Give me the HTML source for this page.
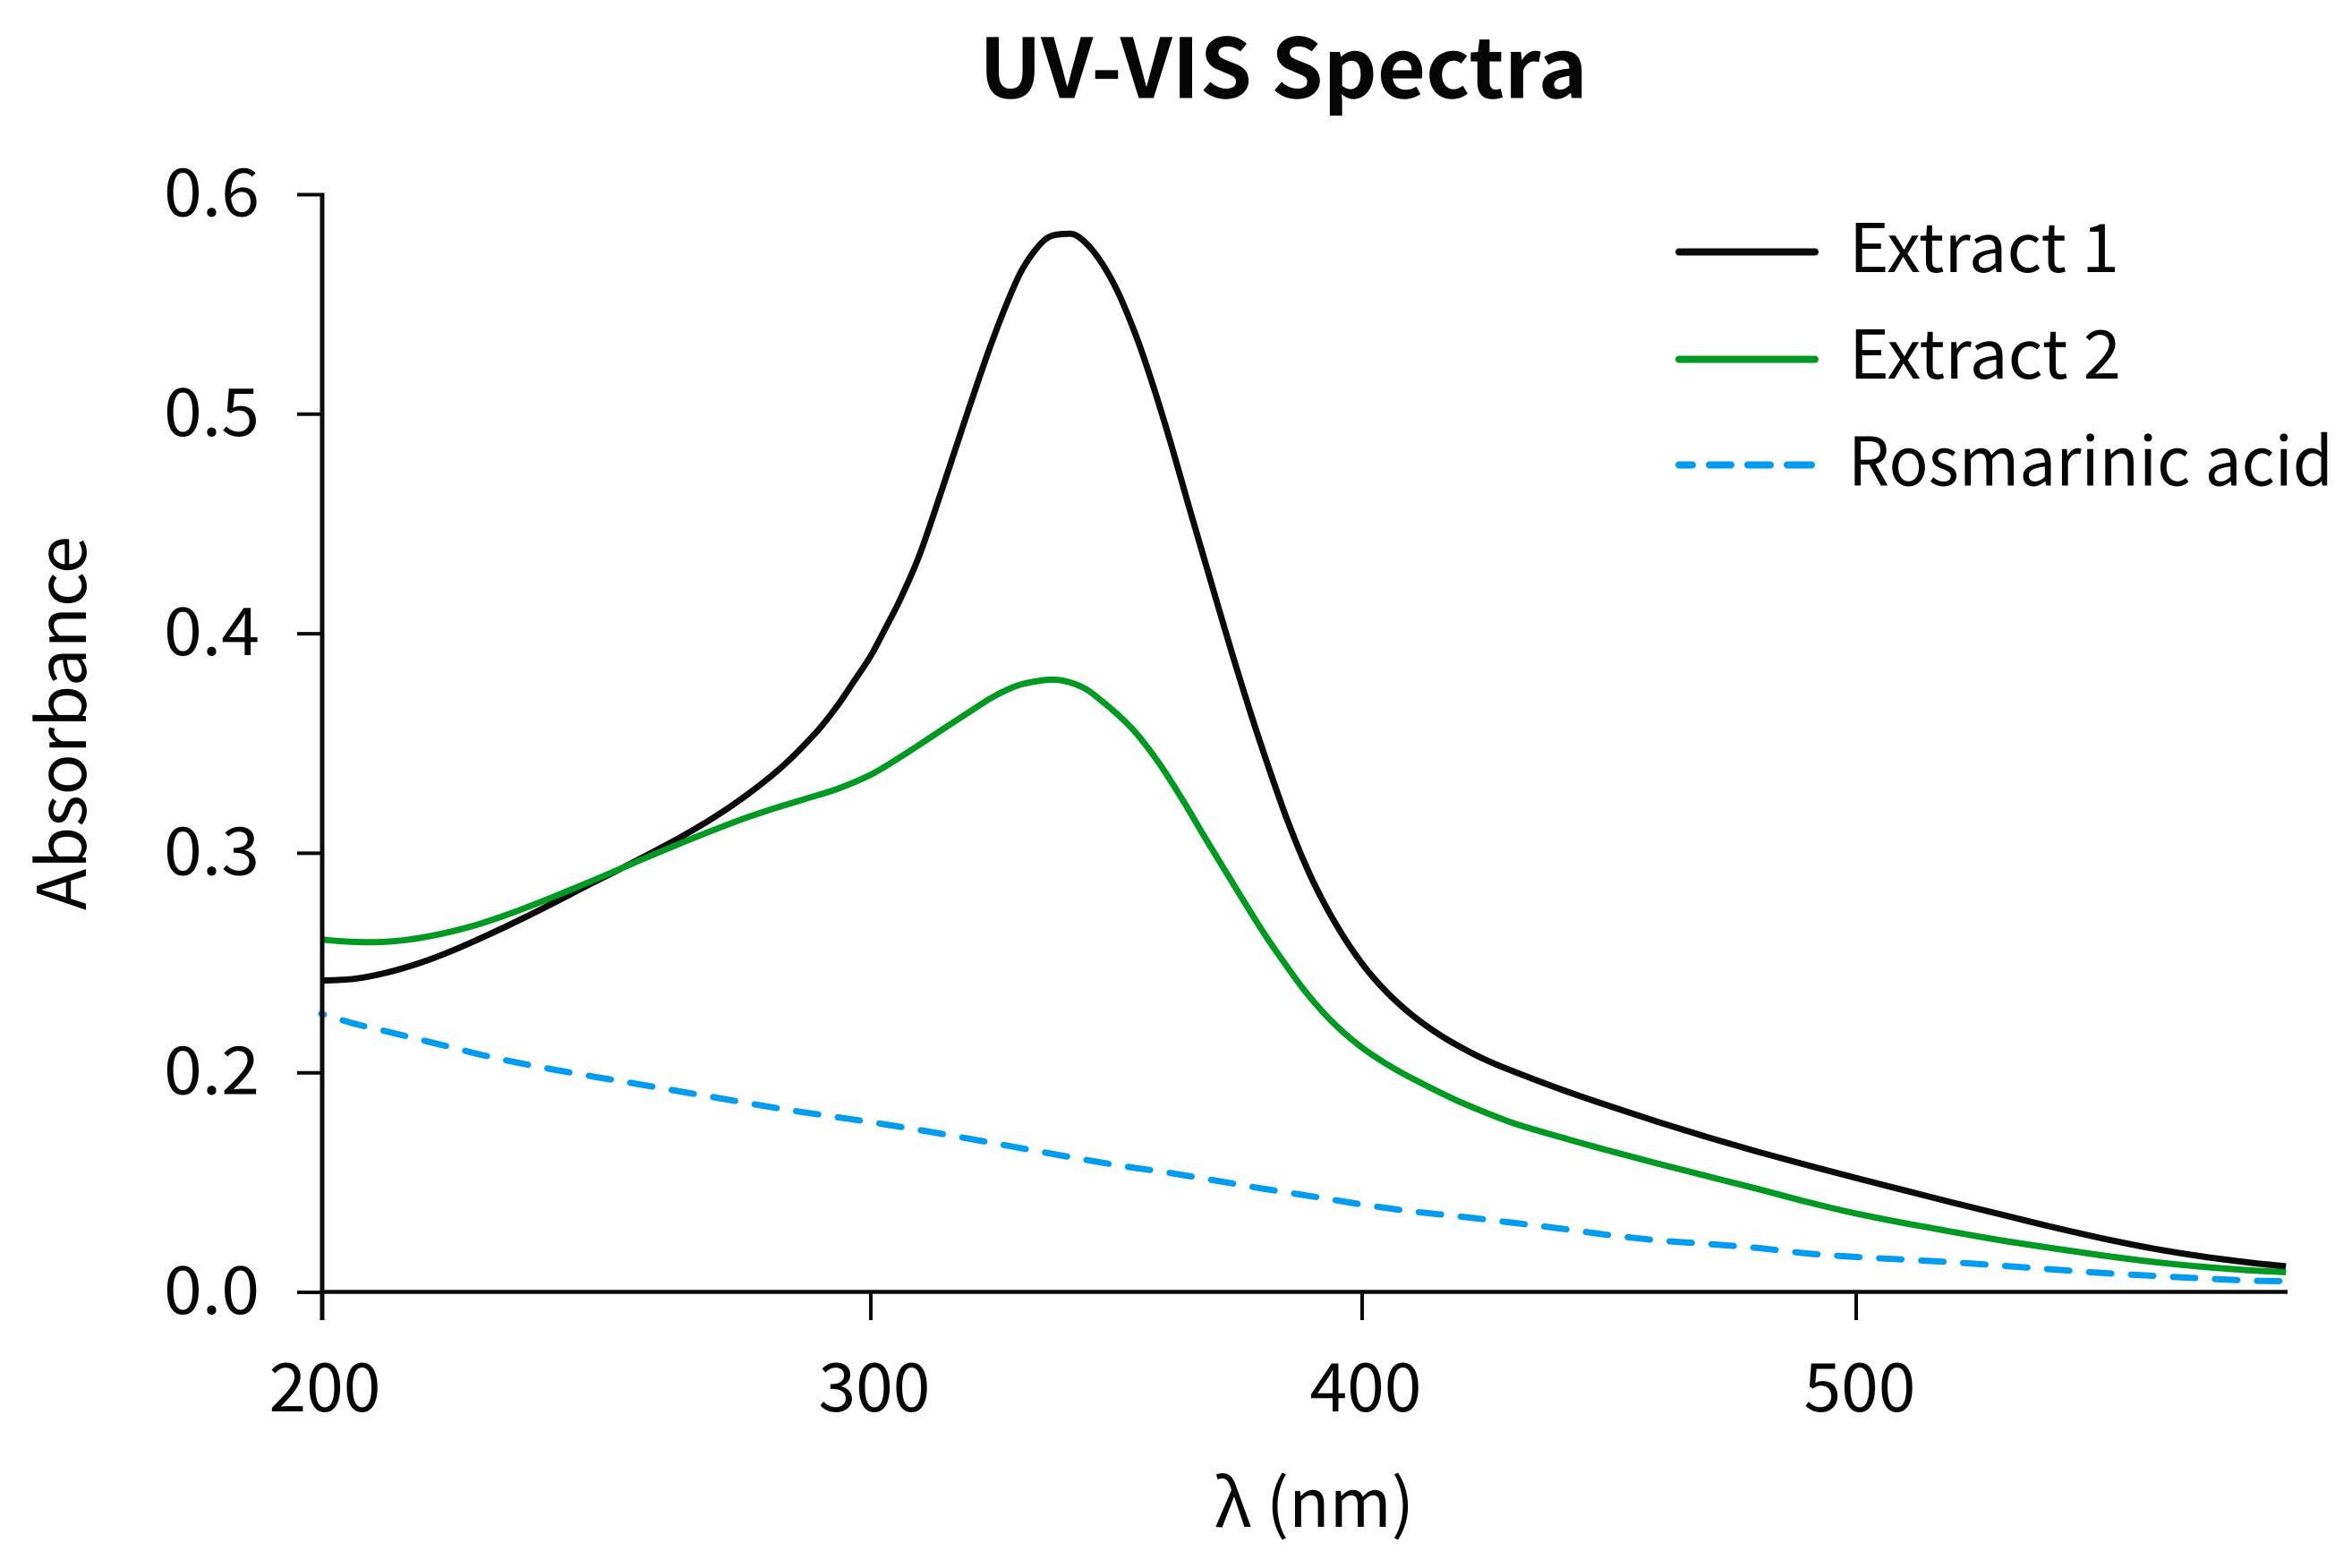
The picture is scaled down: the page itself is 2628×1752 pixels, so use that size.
<!DOCTYPE html>
<html lang="en">
<head>
<meta charset="utf-8">
<title>UV-VIS Spectra</title>
<style>
  html, body { margin: 0; padding: 0; background: #fff; }
  svg { display: block; }
  text { font-family: "Noto Sans CJK JP", "Liberation Sans", sans-serif; fill: #050505; text-rendering: geometricPrecision; }
</style>
</head>
<body>
<svg id="chart" xmlns="http://www.w3.org/2000/svg" width="2628" height="1752" viewBox="0 0 2628 1752">
  <rect width="2628" height="1752" fill="#fff"/>
  <text x="1094" y="109.5" font-size="92" font-weight="700" textLength="680" lengthAdjust="spacingAndGlyphs">UV-VIS Spectra</text>
  <text transform="translate(96 1017) rotate(-90)" font-size="75" textLength="418" lengthAdjust="spacingAndGlyphs">Absorbance</text>
  <text x="1357" y="1706" font-size="74" textLength="223" lengthAdjust="spacingAndGlyphs">λ (nm)</text>
  <g id="series-layer"></g>
  <g id="axis-layer"></g>
  <g>
    <g>
      <line x1="1876" x2="2028" y1="281.5" y2="281.5" stroke="#0a0a0a" stroke-width="8" stroke-linecap="round"/>
      <text x="2066" y="304" font-size="75" textLength="302" lengthAdjust="spacingAndGlyphs">Extract 1</text>
    </g>
    <g>
      <line x1="1876" x2="2028" y1="401.5" y2="401.5" stroke="#009a22" stroke-width="8" stroke-linecap="round"/>
      <text x="2066" y="423" font-size="75" textLength="304" lengthAdjust="spacingAndGlyphs">Extract 2</text>
    </g>
    <g>
      <line x1="1876" x2="2024" y1="519.5" y2="519.5" stroke="#009cf0" stroke-width="8" stroke-linecap="round" stroke-dasharray="15 19 24 19 25 19 27 100"/>
      <text x="2065" y="542.5" font-size="75" textLength="542" lengthAdjust="spacingAndGlyphs">Rosmarinic acid</text>
    </g>
  </g>
</svg>
<script>
const xTickValues = [200, 300, 400, 500];
const xTickLabels = ["200", "300", "400", "500"];
const yTickValues = [0, 0.2, 0.3, 0.4, 0.5, 0.6];
const yTickLabels = ["0.0", "0.2", "0.3", "0.4", "0.5", "0.6"];

const extract1Wavelengths = [200,206,212,218,224,230,236,242,248,254,260,266,272,278,284,290,294,297,300,303,306,310,315,320,325,330,333,336,340,342,345,348,351,355,360,365,370,375,380,385,390,395,400,405,410,415,420,425,430,440,450,460,470,480,490,500,510,520,530,540,550,560,570,580,587];
const extract1Values = [.242,.2428,.2457,.2501,.2558,.2624,.2695,.277,.2848,.2923,.3001,.3082,.3172,.3276,.3398,.3549,.3675,.3786,.39,.4026,.4157,.4364,.4691,.5029,.5351,.5624,.5734,.5804,.5822,.5812,.575,.5653,.5522,.5294,.4947,.456,.4177,.3802,.3455,.3137,.2872,.2664,.2497,.2367,.2265,.2183,.2116,.2059,.2012,.1853,.1698,.1551,.1412,.1282,.1159,.1041,.0927,.0812,.0702,.0592,.049,.04,.0327,.0269,.0237];

const extract2Wavelengths = [200,204,210,216,222,228,234,240,246,252,258,264,270,276,282,288,294,300,305,310,315,320,325,330,335,338,341,344,347,350,353,356,360,364,368,372,376,380,384,388,392,396,400,404,408,412,416,420,430,440,450,460,470,480,490,500,510,520,530,540,550,560,570,580,587];
const extract2Values = [.2607,.2599,.2595,.2607,.2634,.2672,.2722,.2779,.284,.2903,.2968,.3031,.3092,.315,.3201,.3247,.3294,.3358,.3424,.3496,.357,.3643,.3714,.3765,.3788,.379,.3775,.3745,.3694,.3637,.3572,.3492,.3366,.3223,.3072,.2925,.2779,.2636,.2506,.2383,.2277,.2188,.2114,.2053,.2,.1906,.1816,.1731,.1551,.1416,.129,.1171,.1057,.0943,.0824,.0718,.0629,.0547,.0469,.04,.0335,.0278,.0233,.02,.0184];

const rosmarinicWavelengths = [200,206,212,218,224,230,236,242,250,258,266,274,282,290,300,310,320,330,340,350,360,370,380,390,400,410,420,430,440,450,460,470,480,490,500,510,520,530,540,550,560,570,580,587];
const rosmarinicValues = [.2269,.2224,.2188,.2151,.2114,.2077,.2045,.2016,.1962,.1894,.1824,.1755,.1686,.1624,.1551,.1478,.14,.1318,.1237,.1159,.1094,.102,.0943,.0873,.08,.0738,.069,.0637,.0582,.0522,.0473,.0441,.0404,.0355,.0322,.0298,.0273,.0241,.0208,.0176,.0151,.0127,.0106,.0102];

const SVG_NS = "http://www.w3.org/2000/svg";

// The printed axes are not uniform, so both scales are piecewise-linear through their ticks.
function xScale(v) {
  if (v <= 300) return 359 + (v - 200) * 6.14;
  if (v <= 400) return 973 + (v - 300) * 5.49;
  return 1522 + (v - 400) * 5.52;
}
function yScale(v) {
  const top = 217.5, step = 245.3, n = yTickValues.length - 1;
  let i = 0;
  while (i < n - 1 && v > yTickValues[i + 1]) i++;
  const t = (v - yTickValues[i]) / (yTickValues[i + 1] - yTickValues[i]);
  return top + (n - i - t) * step;
}
// Hermite spline in pixel x, so unevenly spaced readings still join without kinks.
function smoothPath(lams, vals) {
  const pts = lams.map((l, i) => [xScale(l), yScale(vals[i])]);
  const last = pts.length - 1;
  const slope = pts.map((p, i) => {
    const a = pts[Math.max(i - 1, 0)], b = pts[Math.min(i + 1, last)];
    return (b[1] - a[1]) / (b[0] - a[0]);
  });
  let d = "M" + pts[0][0].toFixed(1) + " " + pts[0][1].toFixed(1);
  for (let i = 0; i < last; i++) {
    const p1 = pts[i], p2 = pts[i + 1], h = (p2[0] - p1[0]) / 3;
    d += "C" + (p1[0] + h).toFixed(1) + " " + (p1[1] + slope[i] * h).toFixed(1) + " " + (p2[0] - h).toFixed(1) + " " + (p2[1] - slope[i + 1] * h).toFixed(1) + " " + p2[0].toFixed(1) + " " + p2[1].toFixed(1);
  }
  return d;
}

const seriesLayer = document.getElementById("series-layer");
const axisLayer = document.getElementById("axis-layer");

const curve1 = document.createElementNS(SVG_NS, "path");


curve1.setAttribute("d", smoothPath(extract1Wavelengths, extract1Values));
curve1.setAttribute("fill", "none");
curve1.setAttribute("stroke", "#0a0a0a");
curve1.setAttribute("stroke-width", "7");
seriesLayer.appendChild(curve1);

const curve2 = document.createElementNS(SVG_NS, "path");


curve2.setAttribute("d", smoothPath(extract2Wavelengths, extract2Values));
curve2.setAttribute("fill", "none");
curve2.setAttribute("stroke", "#009a22");
curve2.setAttribute("stroke-width", "7");
seriesLayer.appendChild(curve2);

const curve3 = document.createElementNS(SVG_NS, "path");


curve3.setAttribute("d", smoothPath(rosmarinicWavelengths, rosmarinicValues));
curve3.setAttribute("fill", "none");
curve3.setAttribute("stroke", "#009cf0");
curve3.setAttribute("stroke-width", "7");
curve3.setAttribute("stroke-linecap", "round");
curve3.setAttribute("stroke-dasharray", "25 22");
curve3.setAttribute("stroke-dashoffset", "22");
seriesLayer.appendChild(curve3);

const yAxisLine = document.createElementNS(SVG_NS, "line");


yAxisLine.setAttribute("x1", 360);
yAxisLine.setAttribute("x2", 360);
yAxisLine.setAttribute("y1", yScale(0.6) - 2);
yAxisLine.setAttribute("y2", 1475);
yAxisLine.setAttribute("stroke", "#0a0a0a");
yAxisLine.setAttribute("stroke-width", "5");
axisLayer.appendChild(yAxisLine);

const xAxisLine = document.createElementNS(SVG_NS, "line");


xAxisLine.setAttribute("x1", 358);
xAxisLine.setAttribute("x2", 2556);
xAxisLine.setAttribute("y1", yScale(0) - 0.5);
xAxisLine.setAttribute("y2", yScale(0) - 0.5);
xAxisLine.setAttribute("stroke", "#0a0a0a");
xAxisLine.setAttribute("stroke-width", "4.5");
axisLayer.appendChild(xAxisLine);

yTickValues.forEach(function (v, i) {
  const y = yScale(v);
  const tick = document.createElementNS(SVG_NS, "line");
  
  
  tick.setAttribute("x1", 332);
  tick.setAttribute("x2", 360);
  tick.setAttribute("y1", y);
  tick.setAttribute("y2", y);
  tick.setAttribute("stroke", "#0a0a0a");
  tick.setAttribute("stroke-width", "4");
  axisLayer.appendChild(tick);
  const label = document.createElementNS(SVG_NS, "text");
  
  
  label.setAttribute("x", 183);
  label.setAttribute("y", y + 24);
  label.setAttribute("font-size", "74");
  label.setAttribute("textLength", "107");
  label.setAttribute("lengthAdjust", "spacingAndGlyphs");
  label.textContent = yTickLabels[i];
  axisLayer.appendChild(label);
});

xTickValues.forEach(function (v, i) {
  const x = xScale(v);
  if (i > 0) {
    const tick = document.createElementNS(SVG_NS, "line");
    
    
    tick.setAttribute("x1", x);
    tick.setAttribute("x2", x);
    tick.setAttribute("y1", 1444);
    tick.setAttribute("y2", 1475);
    tick.setAttribute("stroke", "#0a0a0a");
    tick.setAttribute("stroke-width", "4");
    axisLayer.appendChild(tick);
  }
  const label = document.createElementNS(SVG_NS, "text");
  
  
  label.setAttribute("x", x + 4);
  label.setAttribute("y", 1577);
  label.setAttribute("font-size", "75");
  label.setAttribute("text-anchor", "middle");
  label.textContent = xTickLabels[i];
  axisLayer.appendChild(label);
});
</script>
</body>
</html>
